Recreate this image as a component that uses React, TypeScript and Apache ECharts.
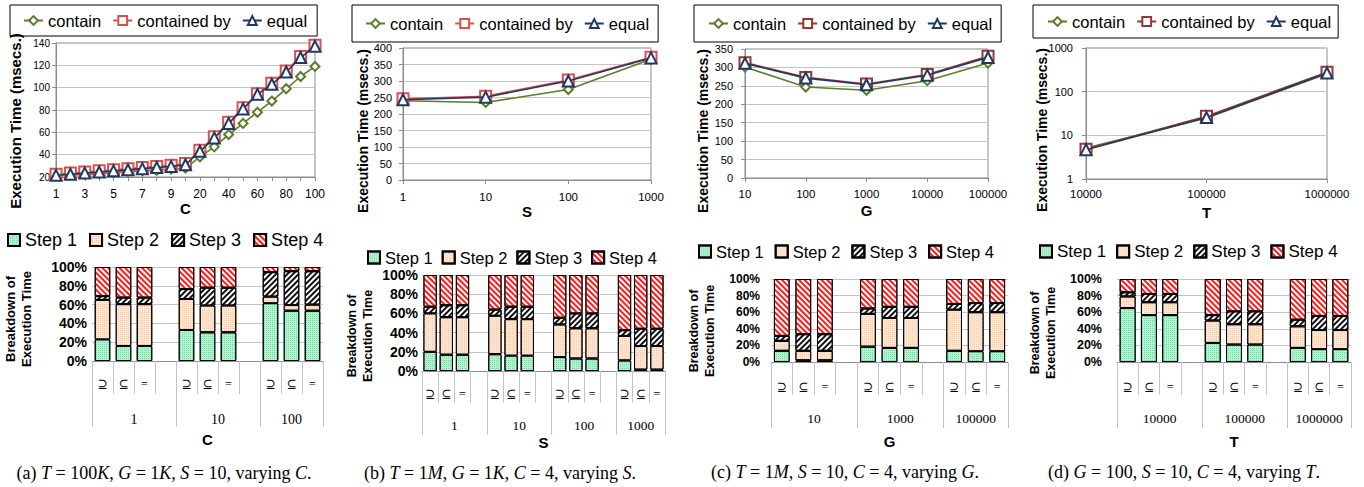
import React, { useEffect, useRef } from 'react';
import * as echarts from 'echarts';

// ---------------- data ----------------
const cCats = ['1', '2', '3', '4', '5', '6', '7', '8', '9', '10', '20', '30', '40', '50', '60', '70', '80', '90', '100'];
const cContain = [21.5, 22, 22.5, 23, 24, 25, 25.5, 26, 27, 28, 38, 47, 58, 68, 78, 88, 99, 110, 119];
const cContainedBy = [22.5, 23.5, 24.5, 25.5, 26.5, 27.5, 28.5, 29.5, 30.5, 32, 44, 56, 69, 82, 94.5, 104, 115, 128, 138];
const cEqual = [21.5, 22.5, 23.5, 24.5, 25.5, 26.5, 27.5, 28.5, 29.5, 31, 43, 55, 68, 81, 94, 103, 114, 127, 137];

const sCats = ['1', '10', '100', '1000'];
const sContain = [240, 235, 274, 366];
const sContainedBy = [246, 254, 303, 372];
const sEqual = [243, 251, 300, 370];

const gCats = ['10', '100', '1000', '10000', '100000'];
const gContain = [301, 247, 238, 264, 312];
const gContainedBy = [313, 273, 255, 281, 330];
const gEqual = [311, 271, 253, 279, 327];

const tCats = ['10000', '100000', '1000000'];
const tContain = [5.1, 25, 258];
const tContainedBy = [4.8, 27.5, 280];
const tEqual = [4.7, 25.5, 268];

const subLabels = ['⊇', '⊆', '='];
const stepNames = ['Step 1', 'Step 2', 'Step 3', 'Step 4'];
const lineNames = ['contain', 'contained by', 'equal'];

const cGroups = ['1', '10', '100'];
const cStep1 = [23, 16, 16, 33, 30.5, 30.5, 61.5, 53.5, 53.5];
const cStep2 = [42, 44.5, 44.5, 33, 28.5, 28.5, 7, 6, 6.5];
const cStep3 = [4, 7, 7, 10.5, 19, 19, 26, 36, 35.5];
const cStep4 = [31, 32.5, 32.5, 23.5, 22, 22, 5.5, 4.5, 4.5];

const sGroups = ['1', '10', '100', '1000'];
const sStep1 = [20, 17, 17, 17.5, 16, 16, 14.5, 13, 13, 11, 1.5, 1.5];
const sStep2 = [40, 39, 39, 40, 38, 38, 34, 31.5, 31.5, 25.5, 24.5, 24.5];
const sStep3 = [7, 12.5, 12.5, 6.5, 13, 13, 7, 15.5, 15.5, 6, 18, 18];
const sStep4 = [33, 31.5, 31.5, 36, 33, 33, 44.5, 40, 40, 57.5, 56, 56];

const gGroups = ['10', '1000', '100000'];
const gStep1 = [13.5, 2, 2, 18.5, 17, 17, 13.5, 13, 13];
const gStep2 = [12, 11.5, 11.5, 39.5, 36, 36, 49.5, 47, 47];
const gStep3 = [6, 20, 20, 6.5, 13.5, 13.5, 7, 11, 11];
const gStep4 = [68.5, 66.5, 66.5, 35.5, 33.5, 33.5, 30, 29, 29];

const tGroups = ['10000', '100000', '1000000'];
const tStep1 = [65, 56.5, 56.5, 23, 21, 21, 17, 15.5, 15.5];
const tStep2 = [14, 15.5, 15.5, 27, 24.5, 24.5, 26, 23, 23];
const tStep3 = [5, 10, 10, 6.5, 15.5, 15.5, 8, 17, 17];
const tStep4 = [16, 18, 18, 43.5, 39, 39, 49, 44.5, 44.5];

// ---------------- styles ----------------
const SANS = '"Liberation Sans", Arial, sans-serif';
const SERIF = '"Liberation Serif", "DejaVu Serif", serif';
const GREEN = '#5b7d2b';
const NAVY = '#1f3864';
const RED_LIGHT = '#d9504c';
const RED_DARK = '#953735';
const GRID_LINE = '#c4c4c4';
const AXIS_LINE = '#8c8c8c';

const STEP_COLORS = ['#b8f0d2', '#fde8d8', '#ffffff', '#ffffff'];
const makeDecals = () => [
  { symbol: 'rect', symbolSize: 1, dashArrayX: [1, 1], dashArrayY: [1, 1], color: '#74d8a0' },
  { symbol: 'rect', symbolSize: 1, dashArrayX: [1, 1], dashArrayY: [1, 1], color: '#f8caa6' },
  { symbol: 'rect', symbolSize: 1, dashArrayX: [1, 0], dashArrayY: [1.5, 2], rotation: -Math.PI / 4, color: '#111111' },
  { symbol: 'rect', symbolSize: 1, dashArrayX: [1, 0], dashArrayY: [2, 2], rotation: Math.PI / 4, color: '#ff1a1a' },
];

const linePanels = [
  {
    id: 'a', cats: cCats, values: [cContain, cContainedBy, cEqual], red: RED_LIGHT, axisName: 'C',
    grid: { left: 56, top: 43, width: 259, height: 134 }, yType: 'value', yMin: 20, yMax: 140, yInterval: 20,
    xLabelInterval: 1, xLabelSize: 12, yLabelSize: 10, xLabelMargin: 11, yLabelMargin: 6, nameGap: 24,
    legend: { left: 10, top: 5, padding: [7, 10, 7, 13], itemGap: 11, fontSize: 16.5 },
    yTitle: { x: 15, y: 121, size: 15 },
  },
  {
    id: 'b', cats: sCats, values: [sContain, sContainedBy, sEqual], red: RED_LIGHT, axisName: 'S',
    grid: { left: 403, top: 48, width: 248, height: 132 }, yType: 'value', yMin: 0, yMax: 400, yInterval: 50,
    xLabelInterval: 0, xLabelSize: 11.5, yLabelSize: 11, xLabelMargin: 11, yLabelMargin: 11, nameGap: 23,
    legend: { left: 352, top: 5, padding: [10, 9, 10, 13], itemGap: 11, fontSize: 16.5 },
    yTitle: { x: 363, y: 131, size: 14 },
  },
  {
    id: 'c', cats: gCats, values: [gContain, gContainedBy, gEqual], red: RED_DARK, axisName: 'G',
    grid: { left: 745, top: 49, width: 243, height: 129 }, yType: 'value', yMin: 0, yMax: 350, yInterval: 50,
    xLabelInterval: 0, xLabelSize: 11.5, yLabelSize: 11, xLabelMargin: 10, yLabelMargin: 12, nameGap: 25,
    legend: { left: 694, top: 5, padding: [10, 9, 10, 14], itemGap: 11, fontSize: 16.5 },
    yTitle: { x: 703, y: 131, size: 14 },
  },
  {
    id: 'd', cats: tCats, values: [tContain, tContainedBy, tEqual], red: RED_DARK, axisName: 'T',
    grid: { left: 1086, top: 48, width: 241, height: 131 }, yType: 'log', yMin: 1, yMax: 1000, yInterval: undefined,
    xLabelInterval: 0, xLabelSize: 11.5, yLabelSize: 11, xLabelMargin: 9, yLabelMargin: 13, nameGap: 26,
    legend: { left: 1033, top: 5, padding: [8, 7, 8, 14], itemGap: 11, fontSize: 16.5 },
    yTitle: { x: 1042, y: 130, size: 14 },
  },
];

const barPanels = [
  {
    id: 'a', groups: cGroups, steps: [cStep1, cStep2, cStep3, cStep4], axisName: 'C',
    grid: { left: 92, top: 267, width: 231, height: 94 }, gap: '26%',
    innerLen: 33, outerLen: 66, subMargin: 17, groupMargin: 51, nameGap: 71, subSize: 12, groupSize: 14,
    yLabelSize: 14, yLabelMargin: 5,
    legend: { left: 7, top: 231, itemGap: 12, fontSize: 18 },
    yTitle: { x: 18, y: 319, size: 13 },
    caption: { x: 164, y: 473, text: '(a) {i|T} = 100{i|K}, {i|G} = 1{i|K}, {i|S} = 10, varying {i|C}.' },
  },
  {
    id: 'b', groups: sGroups, steps: [sStep1, sStep2, sStep3, sStep4], axisName: 'S',
    grid: { left: 422, top: 275, width: 243, height: 96 }, gap: '18%',
    innerLen: 32, outerLen: 64, subMargin: 17, groupMargin: 47, nameGap: 64, subSize: 12, groupSize: 13.5,
    yLabelSize: 14, yLabelMargin: 4,
    legend: { left: 367, top: 249, itemGap: 9, fontSize: 16.5 },
    yTitle: { x: 360, y: 336, size: 12.5 },
    caption: { x: 500, y: 473, text: '(b) {i|T} = 1{i|M}, {i|G} = 1{i|K}, {i|C} = 4, varying {i|S}.' },
  },
  {
    id: 'c', groups: gGroups, steps: [gStep1, gStep2, gStep3, gStep4], axisName: 'G',
    grid: { left: 771, top: 279, width: 237, height: 83 }, gap: '27%',
    innerLen: 33, outerLen: 66, subMargin: 19, groupMargin: 49, nameGap: 72, subSize: 12, groupSize: 13.5,
    yLabelSize: 12, yLabelMargin: 11,
    legend: { left: 698, top: 243, itemGap: 11, fontSize: 16.5 },
    yTitle: { x: 702, y: 331, size: 12.5 },
    caption: { x: 845, y: 472, text: '(c) {i|T} = 1{i|M}, {i|S} = 10, {i|C} = 4, varying {i|G}.' },
  },
  {
    id: 'd', groups: tGroups, steps: [tStep1, tStep2, tStep3, tStep4], axisName: 'T',
    grid: { left: 1117, top: 279, width: 234, height: 83 }, gap: '25%',
    innerLen: 33, outerLen: 66, subMargin: 19, groupMargin: 49, nameGap: 72, subSize: 12, groupSize: 13.5,
    yLabelSize: 12.5, yLabelMargin: 15,
    legend: { left: 1039, top: 243, itemGap: 10, fontSize: 17 },
    yTitle: { x: 1043, y: 333, size: 12.5 },
    caption: { x: 1184, y: 472, text: '(d) {i|G} = 100, {i|S} = 10, {i|C} = 4, varying {i|T}.' },
  },
];

function buildOption() {
  const grid: any[] = [];
  const xAxis: any[] = [];
  const yAxis: any[] = [];
  const series: any[] = [];
  const legend: any[] = [];
  const graphic: any[] = [];
  const strip = (n: string) => n.split('|')[0];

  linePanels.forEach((p) => {
    const gi = grid.length;
    grid.push({ ...p.grid, show: true, borderColor: AXIS_LINE, borderWidth: 1 });
    const xi = xAxis.length;
    xAxis.push({
      type: 'category', gridIndex: gi, data: p.cats, boundaryGap: false,
      axisLine: { lineStyle: { color: AXIS_LINE, width: 1 } },
      axisTick: { show: true, interval: 0, length: 4, lineStyle: { color: AXIS_LINE } },
      axisLabel: { interval: p.xLabelInterval, fontSize: p.xLabelSize, fontFamily: SANS, color: '#000', margin: p.xLabelMargin },
      splitLine: { show: false },
      name: p.axisName, nameLocation: 'middle', nameGap: p.nameGap,
      nameTextStyle: { fontFamily: SANS, fontWeight: 'bold', fontSize: 15, color: '#000' },
    });
    const yi = yAxis.length;
    const y: any = {
      type: p.yType, gridIndex: gi, min: p.yMin, max: p.yMax,
      axisLine: { show: true, lineStyle: { color: AXIS_LINE, width: 1 } },
      axisTick: { show: true, length: 4, lineStyle: { color: AXIS_LINE } },
      axisLabel: {
        fontSize: p.yLabelSize, fontFamily: SANS, color: '#000', margin: p.yLabelMargin,
        formatter: (v: number) => String(Math.round(v * 1000) / 1000),
      },
      splitLine: { show: true, lineStyle: { color: GRID_LINE, width: 1 } },
    };
    if (p.yType === 'log') y.logBase = 10; else y.interval = p.yInterval;
    yAxis.push(y);
    const names = lineNames.map((n) => `${n}|${p.id}`);
    const colors = [GREEN, p.red, NAVY];
    const symbols = ['emptyDiamond', 'emptyRect', 'emptyTriangle'];
    const sizes = [9, 11, 11];
    names.forEach((nm, k) => {
      series.push({
        type: 'line', name: nm, xAxisIndex: xi, yAxisIndex: yi, data: p.values[k],
        symbol: symbols[k], symbolSize: sizes[k], showAllSymbol: true,
        lineStyle: { color: colors[k], width: 1.6 },
        itemStyle: { color: colors[k], borderColor: colors[k], borderWidth: 1.6 },
        z: 2 + k, animation: false,
      });
    });
    legend.push({
      left: p.legend.left, top: p.legend.top, padding: p.legend.padding, itemGap: p.legend.itemGap,
      itemWidth: 19, itemHeight: 11, borderColor: '#000', borderWidth: 1,
      data: names, formatter: strip, selectedMode: false,
      textStyle: { fontFamily: SANS, fontSize: p.legend.fontSize, color: '#000' },
    });
    graphic.push({
      type: 'text', x: p.yTitle.x, y: p.yTitle.y, rotation: Math.PI / 2,
      style: {
        text: 'Execution Time (msecs.)', fontFamily: SANS, fontWeight: 'bold', fontSize: p.yTitle.size,
        fill: '#000', align: 'center', verticalAlign: 'middle', textAlign: 'center', textVerticalAlign: 'middle',
      },
    });
  });

  barPanels.forEach((p) => {
    const gi = grid.length;
    grid.push({ ...p.grid, show: false });
    // slots: 3 bars per group, plus a gap slot between groups
    const sub: string[] = [];
    const slotValues: any[][] = [[], [], [], []];
    p.groups.forEach((g, gidx) => {
      for (let k = 0; k < 3; k++) {
        sub.push(subLabels[k]);
        for (let s = 0; s < 4; s++) slotValues[s].push(p.steps[s][gidx * 3 + k]);
      }
      if (gidx < p.groups.length - 1) {
        sub.push('');
        for (let s = 0; s < 4; s++) slotValues[s].push('-');
      }
    });
    const n = sub.length;
    const lvl2: string[] = new Array(2 * n + 1).fill('');
    const bounds = new Set<number>();
    let start = 0;
    p.groups.forEach((g, gidx) => {
      const size = gidx < p.groups.length - 1 ? 4 : 3;
      const end = start + size;
      lvl2[start + end] = g;
      bounds.add(2 * start);
      bounds.add(2 * end);
      start = end;
    });
    const xi = xAxis.length;
    xAxis.push({
      type: 'category', gridIndex: gi, data: sub, boundaryGap: true, position: 'bottom',
      axisLine: { show: true, lineStyle: { color: AXIS_LINE, width: 1 } },
      axisTick: { show: true, interval: 0, length: p.innerLen, lineStyle: { color: GRID_LINE } },
      axisLabel: { interval: 0, fontSize: p.subSize, fontFamily: SERIF, color: '#000', margin: p.subMargin },
      splitLine: { show: false },
    });
    xAxis.push({
      type: 'category', gridIndex: gi, data: lvl2, boundaryGap: false, position: 'bottom',
      axisLine: { show: false },
      axisTick: { show: true, interval: (idx: number) => bounds.has(idx), length: p.outerLen, lineStyle: { color: GRID_LINE } },
      axisLabel: { interval: 0, fontSize: p.groupSize, fontFamily: SERIF, color: '#000', margin: p.groupMargin },
      splitLine: { show: false },
      name: p.axisName, nameLocation: 'middle', nameGap: p.nameGap,
      nameTextStyle: { fontFamily: SANS, fontWeight: 'bold', fontSize: 15, color: '#000' },
    });
    const yi = yAxis.length;
    yAxis.push({
      type: 'value', gridIndex: gi, min: 0, max: 100, interval: 20,
      axisLine: { show: false }, axisTick: { show: false },
      axisLabel: { formatter: '{value}%', fontSize: p.yLabelSize, fontWeight: 'bold', fontFamily: SANS, color: '#000', margin: p.yLabelMargin },
      splitLine: { show: true, lineStyle: { color: GRID_LINE, width: 1 } },
    });
    const names = stepNames.map((s) => `${s}|${p.id}`);
    const decals = makeDecals();
    names.forEach((nm, s) => {
      series.push({
        type: 'bar', name: nm, stack: `stack${p.id}`, xAxisIndex: xi, yAxisIndex: yi,
        data: slotValues[s], barCategoryGap: p.gap,
        itemStyle: { color: STEP_COLORS[s], borderColor: '#000', borderWidth: 1, decal: decals[s] },
        emphasis: { disabled: true }, animation: false,
      });
    });
    legend.push({
      left: p.legend.left, top: p.legend.top, padding: 0, itemGap: p.legend.itemGap,
      itemWidth: 12, itemHeight: 12, icon: 'rect', data: names, formatter: strip, selectedMode: false,
      textStyle: { fontFamily: SANS, fontSize: p.legend.fontSize, color: '#000' },
    });
    graphic.push({
      type: 'text', x: p.yTitle.x, y: p.yTitle.y, rotation: Math.PI / 2,
      style: {
        text: 'Breakdown of\nExecution Time', fontFamily: SANS, fontWeight: 'bold', fontSize: p.yTitle.size,
        lineHeight: 16, fill: '#000', align: 'center', verticalAlign: 'middle', textAlign: 'center', textVerticalAlign: 'middle',
      },
    });
    graphic.push({
      type: 'text', x: p.caption.x, y: p.caption.y,
      style: {
        text: p.caption.text, fontFamily: SERIF, fontSize: 18, fill: '#000',
        align: 'center', verticalAlign: 'middle', textAlign: 'center', textVerticalAlign: 'middle',
        rich: {
          i: { fontFamily: SERIF, fontSize: 18, fontStyle: 'italic', fill: '#000' },
        },
      },
    });
  });

  return { animation: false, backgroundColor: '#fff', grid, xAxis, yAxis, series, legend, graphic, tooltip: { show: false } };
}

export default function App() {
  const ref = useRef<HTMLDivElement>(null);
  useEffect(() => {
    document.body.style.margin = '0';
    if (!ref.current) return;
    const chart = echarts.init(ref.current, null, { renderer: 'svg' });
    chart.setOption(buildOption() as any);
    return () => chart.dispose();
  }, []);
  return <div ref={ref} style={{ width: 1364, height: 487 }} />;
}
